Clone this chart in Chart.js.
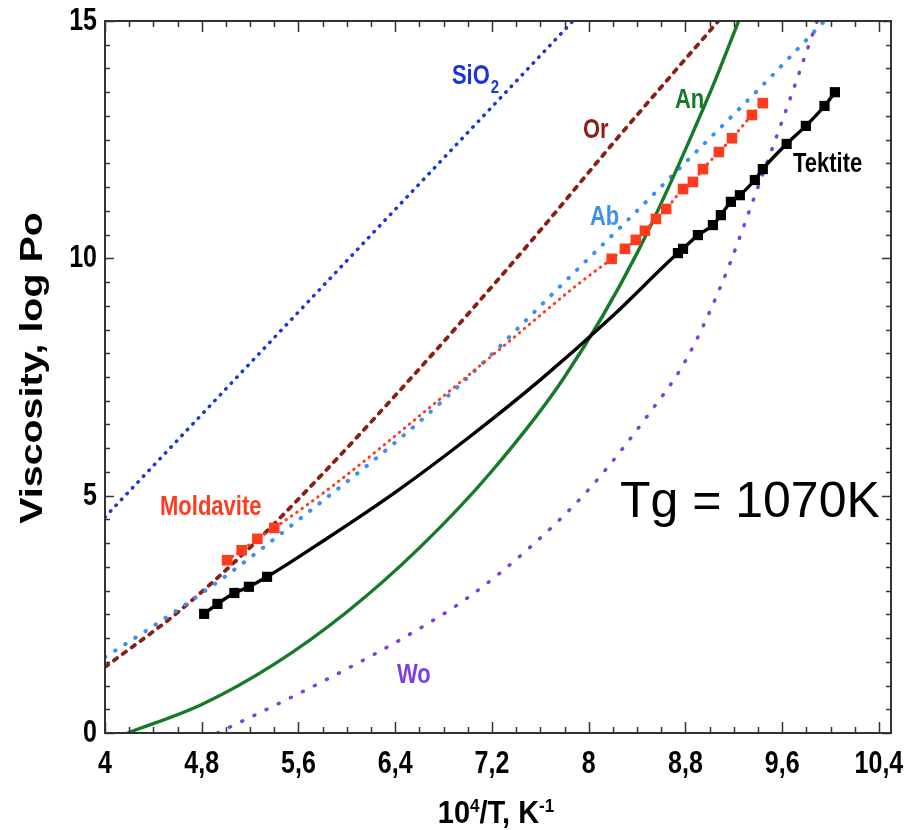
<!DOCTYPE html>
<html lang="en">
  <head>
    <meta charset="UTF-8" />
    <title>Viscosity vs 10^4/T</title>
    <script src="https://cdn.jsdelivr.net/npm/chart.js@4.4.0/dist/chart.umd.min.js"></script>
    <style>
      body { margin: 0; background: #fff; }
    </style>
  </head>
  <body>
    <canvas id="myChart" width="916" height="830"></canvas>
    <script>
      /*** data (x = 10^4/T, y = log viscosity) ***/
      const sio2X = [4, 5, 6, 7, 7.87];
      const sio2Y = [4.55, 7.25, 9.95, 12.65, 15];

      const orX = [4, 4.6, 5.2, 5.8, 6.4, 7.0, 7.6, 8.2, 8.8, 9.08];
      const orY = [1.39, 2.54, 3.91, 5.46, 7.11, 8.82, 10.59, 12.42, 14.2, 15.02];

      const abX = [4, 4.35, 4.93, 5.67, 6.52, 7.02, 7.76, 8.34, 8.67, 9.44, 9.95];
      const abY = [1.6, 2.17, 3.18, 4.63, 6.38, 7.54, 9.4, 10.85, 11.69, 13.65, 15];

      const anX = [4.19, 4.8, 5.4, 6.0, 6.6, 7.2, 7.8, 8.4, 9.0, 9.24];
      const anY = [0, 0.6, 1.45, 2.55, 3.9, 5.52, 7.5, 10.11, 13.47, 15];

      const woX = [4.93, 5.5, 6.0, 6.5, 7.0, 7.5, 8.0, 8.5, 8.8, 9.1, 9.4, 9.65, 9.89];
      const woY = [0, 0.7, 1.35, 2.05, 2.85, 3.88, 5.13, 6.73, 7.84, 9.46, 11.5, 13.25, 15];

      // Moldavite measured points and the fitted curve between them
      const moldPtX = [5.01, 5.13, 5.26, 5.4, 8.19, 8.3, 8.39, 8.465, 8.556, 8.64, 8.78, 8.862, 8.945, 9.077, 9.185, 9.35, 9.44];
      const moldPtY = [3.64, 3.85, 4.09, 4.32, 9.99, 10.2, 10.39, 10.58, 10.83, 11.04, 11.46, 11.61, 11.88, 12.24, 12.53, 13.02, 13.27];
      const moldFitX = [5.9, 6.6, 7.3, 7.9];
      const moldFitY = [5.24, 6.68, 8.16, 9.43];

      // Tektite measured points and the fitted curve between them
      const tekPtX = [4.82, 4.93, 5.07, 5.19, 5.34, 8.738, 8.78, 8.903, 9.027, 9.093, 9.176, 9.25, 9.374, 9.44, 9.637, 9.796, 9.95, 10.036];
      const tekPtY = [2.51, 2.72, 2.95, 3.08, 3.29, 10.11, 10.2, 10.49, 10.7, 10.91, 11.19, 11.33, 11.65, 11.88, 12.41, 12.79, 13.21, 13.5];
      const tekFitX = [5.8, 6.4, 7.0, 7.6, 8.2];
      const tekFitY = [4.04, 5.07, 6.21, 7.44, 8.79];

      // curve labels, placed in data coordinates
      const labelText = ["SiO", "Or", "An", "Ab", "Tektite", "Moldavite", "Wo"];
      const labelX = [6.869, 7.952, 8.713, 8.01, 9.689, 4.455, 6.414];
      const labelY = [13.67, 12.53, 13.17, 10.7, 11.82, 4.59, 1.05];
      const labelColor = ["#1a35d8", "#8b1f14", "#167a28", "#3d8ff0", "#000", "#ff3b1f", "#7c40dd"];

      /*** helpers ***/
      function pts(xs, ys) {
        return xs.map((x, i) => ({ x: x, y: ys[i] }));
      }
      function merged(ax, ay, bx, by) {
        return pts(ax.concat(bx), ay.concat(by)).sort((p, q) => p.x - q.x);
      }
      function lineSet(data, color, width, dash) {
        return {
          data: data,
          showLine: true,
          borderColor: color,
          borderWidth: width,
          borderDash: dash,
          borderCapStyle: "round",
          pointRadius: 0,
          fill: false,
          cubicInterpolationMode: "monotone",
        };
      }
      function markSet(data, color, r) {
        return {
          data: data,
          showLine: false,
          pointStyle: "rect",
          pointRadius: r,
          backgroundColor: color,
          borderWidth: 0,
        };
      }

      const FONT = '"Liberation Sans", Arial, sans-serif';

      // text squashed / stretched like the original figure
      function stretchText(ctx, txt, px, py, font, color, align, base, sx, sy) {
        ctx.save();
        ctx.translate(px, py);
        ctx.scale(sx, sy);
        ctx.font = font;
        ctx.fillStyle = color;
        ctx.textAlign = align;
        ctx.textBaseline = base;
        ctx.fillText(txt, 0, 0);
        ctx.restore();
      }

      /*** frame, inward ticks and all text ***/
      const deco = {
        id: "deco",
        afterDraw(chart) {
          const { ctx, chartArea: a } = chart;
          const xs = chart.scales.x;
          const ys = chart.scales.y;
          ctx.save();
          ctx.strokeStyle = "#333";
          ctx.lineWidth = 2;
          ctx.strokeRect(a.left, a.top, a.right - a.left, a.bottom - a.top);

          // x ticks every 0.2, major every 0.8
          ctx.lineWidth = 1.5;
          ctx.beginPath();
          for (let i = 0; 4 + i * 0.2 <= xs.max + 1e-9; i++) {
            const px = Math.round(xs.getPixelForValue(4 + i * 0.2)) + 0.5;
            const len = i % 4 === 0 ? 11 : 6;
            ctx.moveTo(px, a.bottom);
            ctx.lineTo(px, a.bottom - len);
            ctx.moveTo(px, a.top);
            ctx.lineTo(px, a.top + len);
          }
          // y ticks every 0.5, major every 5
          for (let i = 0; i * 0.5 <= ys.max + 1e-9; i++) {
            const py = Math.round(ys.getPixelForValue(i * 0.5)) + 0.5;
            const len = i % 10 === 0 ? 9 : 5;
            ctx.moveTo(a.left, py);
            ctx.lineTo(a.left + len, py);
            ctx.moveTo(a.right, py);
            ctx.lineTo(a.right - len, py);
          }
          ctx.stroke();

          // tick labels from the library's ticks
          const tickFont = "bold 25px " + FONT;
          xs.ticks.forEach((t) => {
            const s = String(Math.round(t.value * 10) / 10).replace(".", ",");
            stretchText(ctx, s, xs.getPixelForValue(t.value), a.bottom + 40, tickFont, "#000", "center", "alphabetic", 1, 1.22);
          });
          ys.ticks.forEach((t) => {
            stretchText(ctx, String(t.value), a.left - 8, ys.getPixelForValue(t.value) + 9, tickFont, "#000", "right", "alphabetic", 1, 1.22);
          });

          // y title
          ctx.save();
          ctx.translate(33, 368);
          ctx.rotate(-Math.PI / 2);
          ctx.scale(1.27, 1);
          ctx.font = "bold 31px " + FONT;
          ctx.fillStyle = "#000";
          ctx.textAlign = "center";
          ctx.textBaseline = "middle";
          ctx.fillText("Viscosity, log Po", 0, 0);
          ctx.restore();

          // x title: 10^4/T, K^-1
          const big = "bold 29px " + FONT;
          const small = "bold 17px " + FONT;
          const parts = [["10", big, 0], ["4", small, -11], ["/T, K", big, 0], ["-1", small, -11]];
          let w = 0;
          parts.forEach((p) => { ctx.font = p[1]; w += ctx.measureText(p[0]).width; });
          let cx = 496 - w / 2;
          parts.forEach((p) => {
            ctx.font = p[1];
            const pw = ctx.measureText(p[0]).width;
            stretchText(ctx, p[0], cx, 823 + p[2], p[1], "#000", "left", "alphabetic", 1, 1.1);
            cx += pw;
          });

          // curve labels
          const lf = "bold 22px " + FONT;
          labelText.forEach((t, i) => {
            const px = xs.getPixelForValue(labelX[i]);
            const py = ys.getPixelForValue(labelY[i]);
            stretchText(ctx, t, px, py, lf, labelColor[i], "left", "alphabetic", 1, 1.27);
            if (t === "SiO") {
              ctx.font = lf;
              const tw = ctx.measureText(t).width;
              stretchText(ctx, "2", px + tw + 1, py + 9, "bold 15px " + FONT, labelColor[i], "left", "alphabetic", 1, 1.27);
            }
          });

          // glass transition note
          ctx.font = "50px " + FONT;
          ctx.fillStyle = "#000";
          ctx.textAlign = "left";
          ctx.textBaseline = "alphabetic";
          ctx.fillText("Tg = 1070K", xs.getPixelForValue(8.258), ys.getPixelForValue(4.55));
          ctx.restore();
        },
      };

      /*** chart ***/
      const ctx = document.getElementById("myChart").getContext("2d");
      const chart = new Chart(ctx, {
        type: "scatter",
        data: {
          datasets: [
            markSet(pts(tekPtX, tekPtY), "#000", 7.2),
            markSet(pts(moldPtX, moldPtY), "#ff3b1f", 7.5),
            lineSet(merged(tekPtX, tekPtY, tekFitX, tekFitY), "#000", 3.4, []),
            lineSet(merged(moldPtX, moldPtY, moldFitX, moldFitY), "#ff3b1f", 3, [0.5, 6]),
            lineSet(pts(anX, anY), "#167a28", 3.4, []),
            lineSet(pts(woX, woY), "#7c40dd", 3.5, [1, 12.5]),
            lineSet(pts(abX, abY), "#3d8ff0", 4, [0.5, 11.5]),
            lineSet(pts(orX, orY), "#8b1f14", 3.8, [4, 7]),
            lineSet(pts(sio2X, sio2Y), "#1a35d8", 3.5, [0.5, 7.5]),
          ],
        },
        options: {
          responsive: false,
          animation: false,
          layout: { padding: { top: 21, right: 25, left: 0, bottom: 0 } },
          plugins: { legend: { display: false }, tooltip: { enabled: false } },
          scales: {
            x: {
              type: "linear",
              min: 4,
              max: 10.5,
              ticks: { display: false, stepSize: 0.8, includeBounds: false },
              grid: { display: false },
              border: { display: false },
              afterFit(s) { s.height = 97; },
            },
            y: {
              type: "linear",
              min: 0,
              max: 15,
              ticks: { display: false, stepSize: 5 },
              grid: { display: false },
              border: { display: false },
              afterFit(s) { s.width = 105; },
            },
          },
        },
        plugins: [deco],
      });
    </script>
  </body>
</html>
